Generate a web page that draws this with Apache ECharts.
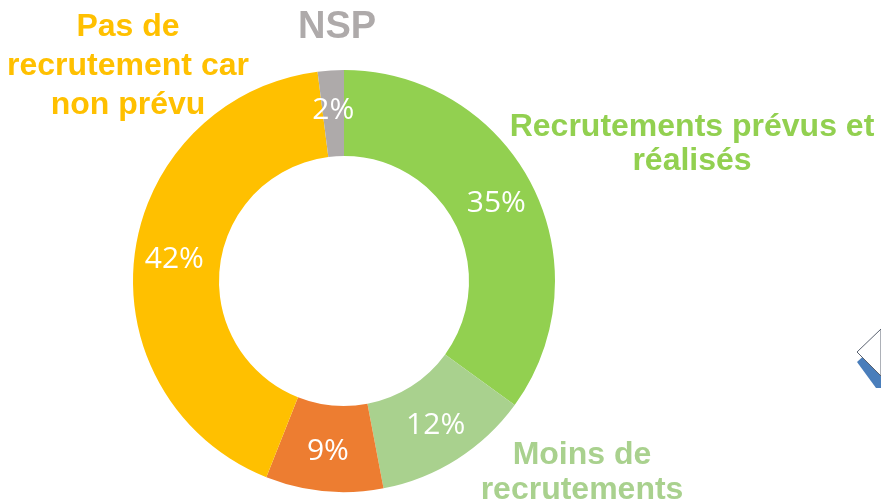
<!DOCTYPE html>
<html>
<head>
<meta charset="utf-8">
<script src="https://cdn.jsdelivr.net/npm/echarts@6/dist/echarts.min.js"></script>
<style>
  html, body { margin: 0; padding: 0; background: #fff; }
  #chart { width: 881px; height: 503px; }
</style>
</head>
<body>
<div id="chart"></div>
<script>
// categories in clockwise order from 12 o'clock
const categories = ['Recrutements prévus et réalisés', 'Moins de recrutements', 'Pas de recrutement', 'Pas de recrutement car non prévu', 'NSP'];
const shares = [35, 12, 9, 42, 2];
const colors = ['#92D050', '#A9D18E', '#ED7D31', '#FFC000', '#AEAAAA'];

const chart = echarts.init(document.getElementById('chart'));

const labelFont = 'Liberation Sans, Arial, sans-serif';

// one graphic text per line, centred on (x, y)
function textLines(lines, x, y, step, color, size) {
    return lines.map((t, i) => ({
        type: 'text',
        style: {
            text: t, x: x, y: y + i * step,
            align: 'center', verticalAlign: 'middle',
            fill: color, font: 'bold ' + size + 'px ' + labelFont
        }
    }));
}

const option = {
    animation: false,
    series: [{
        type: 'pie',
        center: [344, 281],
        radius: [125, 211],
        startAngle: 90,
        clockwise: true,
        avoidLabelOverlap: false,
        data: categories.map((name, i) => ({
            name: name,
            value: shares[i],
            itemStyle: { color: colors[i] }
        })),
        itemStyle: { borderWidth: 0 },
        label: {
            position: 'inside',
            formatter: '{c}%',
            color: '#fff',
            fontSize: 30,
            fontFamily: 'Open Sans, sans-serif'
        },
        labelLine: { show: false },
        emphasis: { disabled: true }
    }],
    graphic: [].concat(
        textLines(['Pas de', 'recrutement car', 'non prévu'], 128, 27, 39, '#FFC000', 32),
        textLines(['NSP'], 337, 28, 0, '#AEAAAA', 38),
        textLines(['Recrutements prévus et', 'réalisés'], 692, 127, 34, '#92D050', 32),
        textLines(['Moins de', 'recrutements'], 582, 455, 35, '#A9D18E', 32),
        [
            // partial arrow shape at the right edge
            {
                type: 'polygon',
                shape: { points: [[857, 362], [881, 340], [881, 388], [876, 388]] },
                style: { fill: '#4A7EBB' }
            },
            {
                type: 'polygon',
                shape: { points: [[857, 352], [881, 329], [881, 376]] },
                style: { fill: '#fff', stroke: '#5a6270', lineWidth: 1 }
            }
        ]
    )
};

chart.setOption(option);
</script>
</body>
</html>
